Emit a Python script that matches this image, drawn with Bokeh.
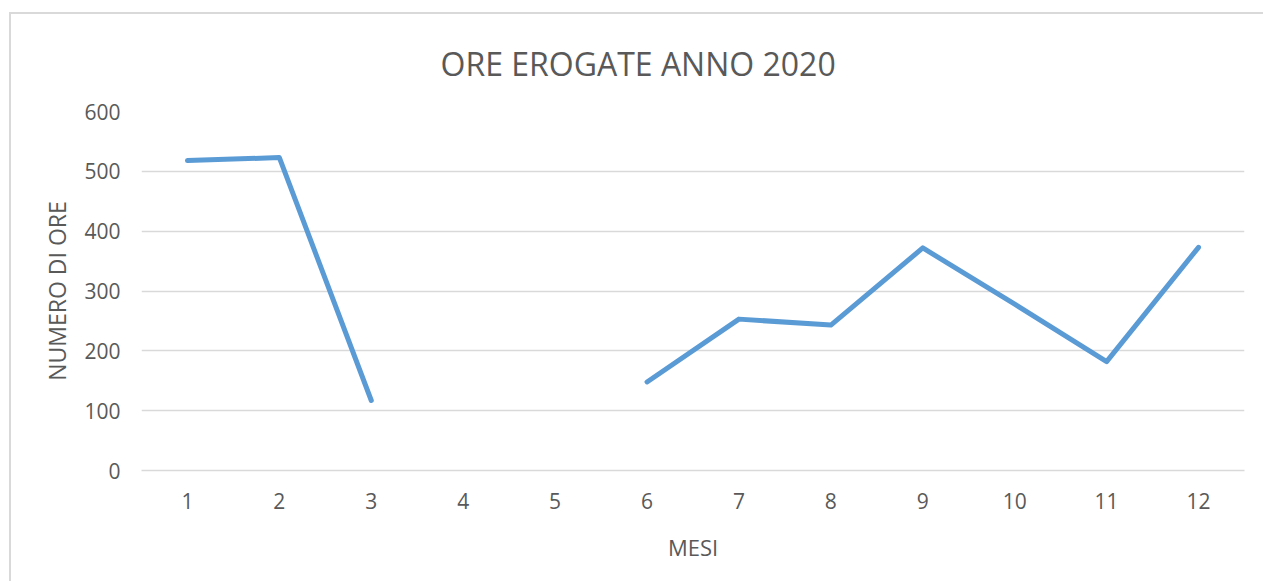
import math
from bokeh.plotting import figure
from bokeh.models import FactorRange, Range1d, FixedTicker, ColumnDataSource
from bokeh.embed import file_html
from bokeh.resources import INLINE

mesi = ["1", "2", "3", "4", "5", "6", "7", "8", "9", "10", "11", "12"]
ore = [518, 523, 117, math.nan, math.nan, 148, 253, 243, 372, 278, 182, 373]
y_ticks = [0, 100, 200, 300, 400, 500, 600]
titolo = "ORE EROGATE ANNO 2020"

TEXT = "#595959"
GRID = "#d9d9d9"
FONT = "Open Sans"

src = ColumnDataSource(dict(x=mesi, y=ore))

p = figure(
    x_range=FactorRange(*mesi, range_padding=0),
    y_range=Range1d(0, 600),
    width=1254, height=569,
    output_backend="svg", toolbar_location=None,
    min_border_left=132, min_border_right=19,
    min_border_top=99, min_border_bottom=111,
    title=titolo,
    margin=(12, 0, 0, 9),
)
p.styles = {"box-shadow": "inset 2px 2px 0 0 #d9d9d9"}
p.border_fill_color = None
p.background_fill_color = "white"
p.outline_line_color = None

p.title.align = "left"
p.title.offset = 299
p.title.text_font = FONT
p.title.text_font_size = "32px"
p.title.text_font_style = "normal"
p.title.text_color = TEXT
p.title.standoff = 53

p.line("x", "y", source=src, line_color="#5b9bd5", line_width=5,
       line_cap="round", line_join="round")

p.xgrid.grid_line_color = None
p.ygrid.grid_line_color = GRID
p.ygrid.grid_line_width = 1.5
p.yaxis.ticker = FixedTicker(ticks=y_ticks)

for ax in (p.xaxis[0], p.yaxis[0]):
    ax.major_tick_line_color = None
    ax.minor_tick_line_color = None
    ax.major_label_text_font = FONT
    ax.major_label_text_font_size = "21px"
    ax.major_label_text_color = TEXT
    ax.axis_label_text_font = FONT
    ax.axis_label_text_font_style = "normal"
    ax.axis_label_text_color = TEXT

p.xaxis.axis_label_text_font_size = "22px"
p.yaxis.axis_label_text_font_size = "23px"
p.yaxis.axis_line_color = None
p.xaxis.axis_line_color = GRID
p.xaxis.axis_line_width = 1.5
p.xaxis.axis_label = "MESI"
p.yaxis.axis_label = "NUMERO DI ORE"
p.xaxis.major_label_standoff = 16
p.xaxis.axis_label_standoff = 20
p.yaxis.major_label_standoff = 15
p.yaxis.axis_label_standoff = 8

open("out.html", "w").write(file_html(p, INLINE))
